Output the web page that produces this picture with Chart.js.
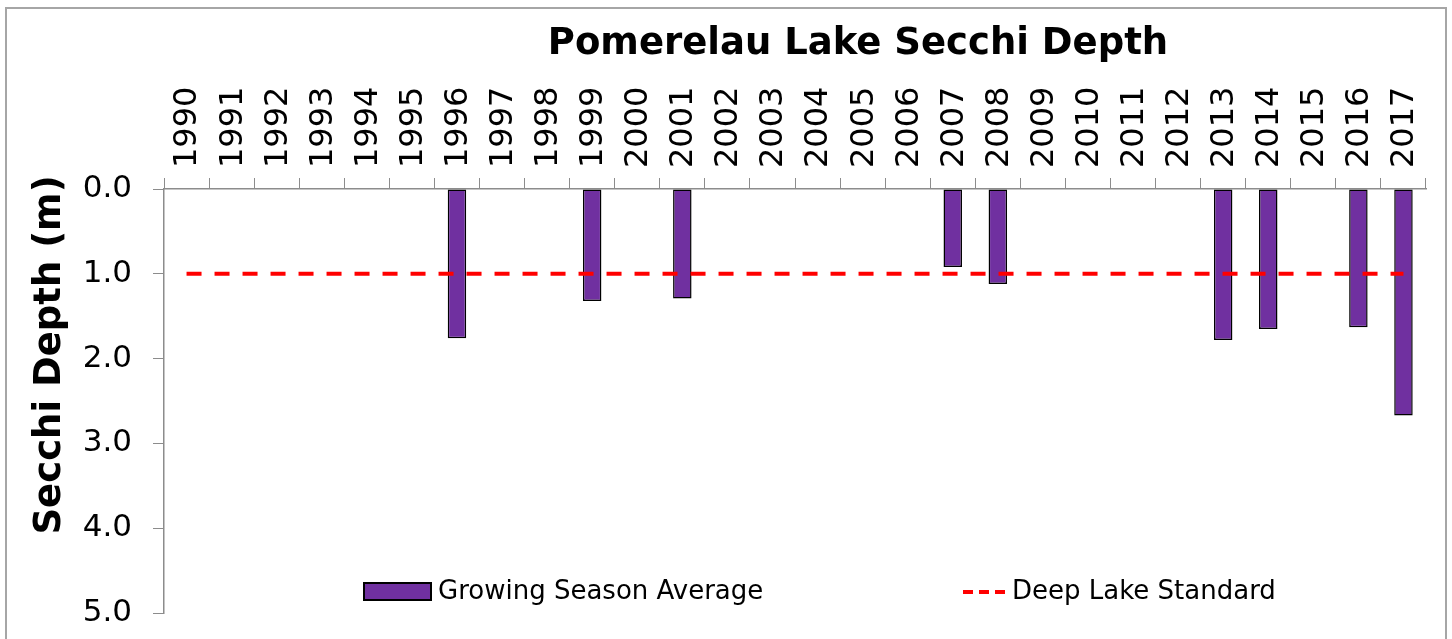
<!DOCTYPE html>
<html>
<head>
<meta charset="utf-8">
<script src="https://cdn.jsdelivr.net/npm/chart.js@4"></script>
<style>
  html, body { margin: 0; padding: 0; background: #fff; }
  #wrap { width: 1452px; height: 639px; }
</style>
</head>
<body>
<div id="wrap"><canvas id="chartSecchi" width="1452" height="639"></canvas></div>
<script>
// ---- DATA ----
const years = ['1990', '1991', '1992', '1993', '1994', '1995', '1996', '1997', '1998', '1999',
    '2000', '2001', '2002', '2003', '2004', '2005', '2006', '2007', '2008', '2009',
    '2010', '2011', '2012', '2013', '2014', '2015', '2016', '2017'];
const growingSeasonAvg = [null, null, null, null, null, null, 1.76, null, null, 1.32,
    null, 1.29, null, null, null, null, null, 0.92, 1.12, null,
    null, null, null, 1.78, 1.65, null, 1.63, 2.67];
const deepLakeStandard = years.map(() => 1.0);
const depthTicks = [0, 1, 2, 3, 4, 5];

const FONT = "'DejaVu Sans', Verdana, sans-serif";
const AXIS_GRAY = '#8c8c8c';

// frame, title, y title and the in-plot legend
const decorPlugin = {
    id: 'decor',
    beforeDraw(chart) {
        const ctx = chart.ctx;
        ctx.save();
        ctx.strokeStyle = '#a6a6a6';
        ctx.lineWidth = 2;
        ctx.strokeRect(6, 8, 1440, 700);
        ctx.restore();
    },
    afterDraw(chart) {
        const ctx = chart.ctx;
        ctx.save();
        ctx.fillStyle = '#000';
        ctx.font = `bold 37px ${FONT}`;
        ctx.textAlign = 'center';
        ctx.textBaseline = 'alphabetic';
        ctx.fillText('Pomerelau Lake Secchi Depth', 858, 54);

        ctx.translate(60, 355);
        ctx.rotate(-Math.PI / 2);
        ctx.font = `bold 37px ${FONT}`;
        ctx.fillText('Secchi Depth (m)', 0, 0);
        ctx.restore();

        // legend
        const bar = chart.data.datasets[1];
        const line = chart.data.datasets[0];
        ctx.save();
        ctx.fillStyle = bar.backgroundColor;
        ctx.fillRect(364, 583, 67, 17);
        ctx.strokeStyle = '#000';
        ctx.lineWidth = 2;
        ctx.strokeRect(364, 583, 67, 17);
        ctx.fillStyle = '#000';
        ctx.font = `26px ${FONT}`;
        ctx.textAlign = 'left';
        ctx.textBaseline = 'middle';
        ctx.fillText(bar.label, 438, 592);

        ctx.strokeStyle = line.borderColor;
        ctx.lineWidth = 4;
        ctx.setLineDash([10, 6]);
        ctx.beginPath();
        ctx.moveTo(963, 592);
        ctx.lineTo(1006, 592);
        ctx.stroke();
        ctx.setLineDash([]);
        ctx.fillText(line.label, 1012, 592);
        ctx.restore();
    }
};

const ctx = document.getElementById('chartSecchi').getContext('2d');
new Chart(ctx, {
    data: {
        labels: years,
        datasets: [{
            type: 'line',
            label: 'Deep Lake Standard',
            data: deepLakeStandard,
            borderColor: '#ff0000',
            borderWidth: 4,
            borderDash: [15, 13],
            pointRadius: 0,
            fill: false,
            order: 0
        }, {
            type: 'bar',
            label: 'Growing Season Average',
            data: growingSeasonAvg,
            backgroundColor: '#7030a0',
            borderColor: '#000000',
            borderWidth: 1.5,
            borderSkipped: false,
            categoryPercentage: 1.0,
            barPercentage: 0.41,
            order: 1
        }]
    },
    options: {
        responsive: false,
        animation: false,
        layout: { padding: { left: 0, top: 0, right: 26, bottom: 26 } },
        plugins: {
            legend: { display: false },
            title: { display: false },
            tooltip: { enabled: false }
        },
        scales: {
            x: {
                position: 'top',
                offset: true,
                grid: { offset: true, drawOnChartArea: false, tickLength: 11, color: AXIS_GRAY },
                border: { color: AXIS_GRAY, width: 1.5 },
                ticks: {
                    autoSkip: false, minRotation: 90, maxRotation: 90, padding: 10, labelOffset: 40,
                    color: '#000', font: { family: FONT, size: 32 }
                },
                afterFit: s => { s.height = 189; }
            },
            y: {
                reverse: true,
                min: 0,
                max: 5,
                afterBuildTicks: s => { s.ticks = depthTicks.map(v => ({ value: v })); },
                grid: { drawOnChartArea: false, tickLength: 11, color: AXIS_GRAY },
                border: { color: AXIS_GRAY, width: 1.5 },
                ticks: {
                    padding: 21, color: '#000', font: { family: FONT, size: 31 },
                    callback: v => Number(v).toFixed(1)
                },
                afterFit: s => { s.width = 164; s.paddingTop = 0; s.paddingBottom = 0; }
            }
        }
    },
    plugins: [decorPlugin]
});
</script>
</body>
</html>
